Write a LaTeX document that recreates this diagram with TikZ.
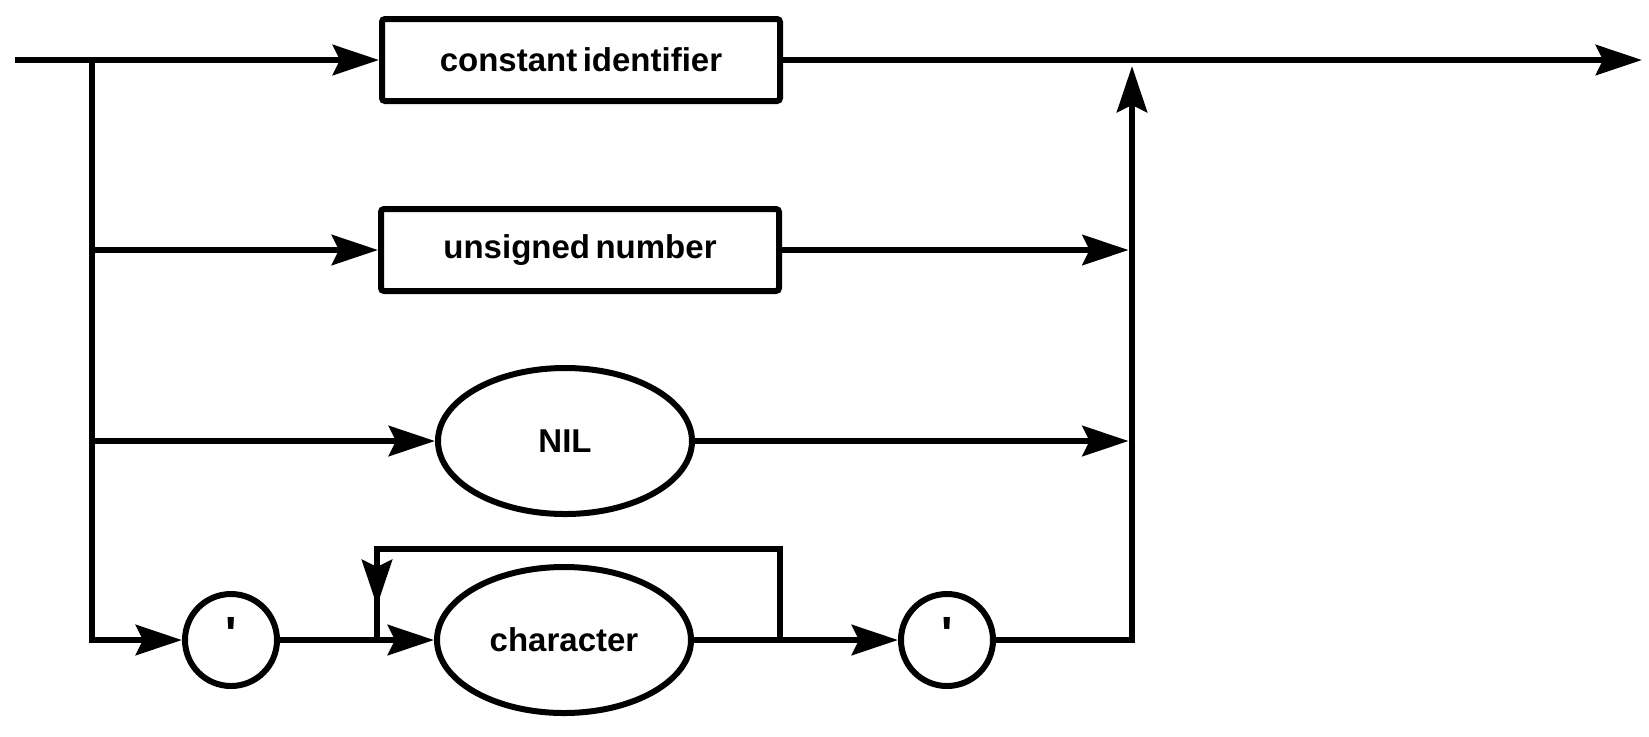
\documentclass[tikz,border=0pt]{standalone}
\usepackage{fontspec}
\setmainfont{Liberation Sans}[WordSpace=0.6]
\usetikzlibrary{arrows.meta,shapes.geometric}
\begin{document}
\begin{tikzpicture}[x=0.5pt,y=-0.5pt,
  line width=3.4pt, line cap=butt,
  arr/.style={-{Stealth[length=23pt,width=15pt,inset=3.5pt]}},
  lab/.style={font=\fontsize{16.5pt}{18pt}\selectfont\bfseries, text=black},
  boxnode/.style={lab, draw, line width=3pt, rounded corners=1.5pt, minimum width=199pt, minimum height=41pt, inner sep=0pt},
  ovalnode/.style={lab, draw, line width=3pt, ellipse, minimum width=127pt, minimum height=73pt, inner sep=0pt},
  quotenode/.style={lab, draw, line width=3pt, circle, minimum size=46pt, inner sep=0pt}]
\useasboundingbox (0,0) rectangle (1649,736);

% nodes
\node[boxnode] (cid) at (581,60) {constant identifier};
\node[boxnode] (unum) at (580,250) {unsigned number};
\node[ovalnode] (nil) at (565,441) {NIL};
\node[ovalnode] (chr) at (564,640) {character};
\node[quotenode] (q1) at (231,640) {\raisebox{-5pt}[0pt][0pt]{\fontsize{24pt}{24pt}\selectfont\textquotesingle}};
\node[quotenode] (q2) at (947,640) {\raisebox{-5pt}[0pt][0pt]{\fontsize{24pt}{24pt}\selectfont\textquotesingle}};

% junction coordinates
\coordinate (in) at (15,60);
\coordinate (jl) at (92,60);
\coordinate (j2) at (92,250);
\coordinate (j3) at (92,441);
\coordinate (rt) at (1132,60);
\coordinate (r2) at (1132,250);
\coordinate (r3) at (1132,441);
\coordinate (out) at (1642,60);
\coordinate (lr) at (780,640);
\coordinate (ltop) at (377,549);
\coordinate (larr) at (377,606);
\coordinate (lb) at (377,640);

% connectors
\draw[arr] (in) -- (cid.west);
\draw[arr] (jl) |- (q1.west);
\draw[arr] (j2) -- (unum.west);
\draw[arr] (j3) -- (nil.west);
\draw[arr] (q1.east) -- (chr.west);
\draw[arr] (chr.east) -- (q2.west);
\draw (lr) |- (ltop) -- (lb);
\draw[arr] (ltop) -- (larr);
\draw[arr] (cid.east) -- (out);
\draw[arr, shorten >=1.7pt] (unum.east) -- (r2);
\draw[arr, shorten >=1.7pt] (nil.east) -- (r3);
\draw[arr, shorten >=3pt] (q2.east) -| (rt);
\end{tikzpicture}
\end{document}
